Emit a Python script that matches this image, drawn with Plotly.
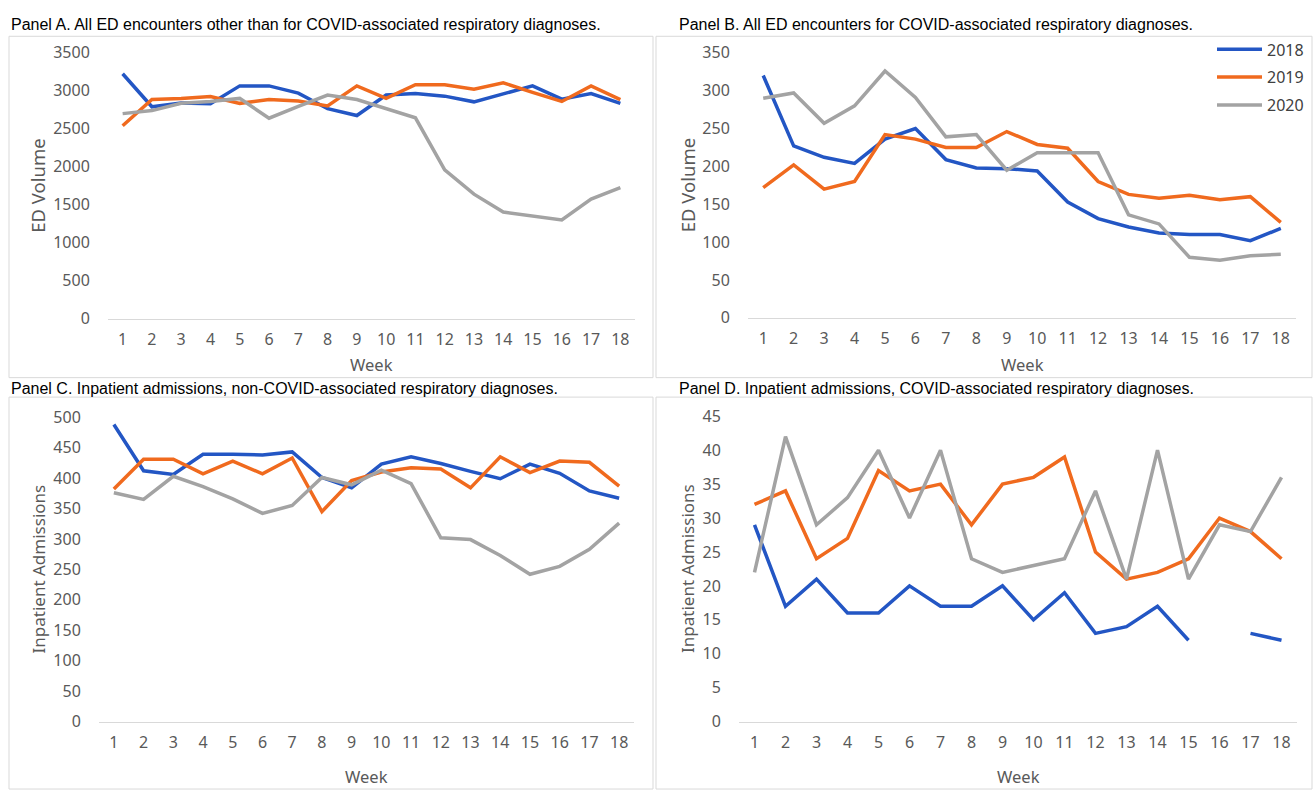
import plotly.graph_objects as go

W, H = 1314, 801

weeks = list(range(1, 19))
years = ["2018", "2019", "2020"]
colors = ["#2356C4", "#F06A1E", "#A3A3A3"]

# Panel A: ED encounters, non-COVID-associated respiratory
ed_other_2018 = [3225, 2790, 2840, 2830, 3065, 3065, 2970, 2765, 2675, 2945, 2965, 2930, 2855, 2960, 3065, 2890, 2965, 2835]
ed_other_2019 = [2540, 2885, 2900, 2925, 2835, 2885, 2865, 2800, 3065, 2900, 3080, 3080, 3020, 3105, 2980, 2860, 3065, 2885]
ed_other_2020 = [2700, 2740, 2835, 2860, 2900, 2640, 2795, 2945, 2885, 2765, 2645, 1960, 1640, 1405, 1350, 1300, 1575, 1725]

# Panel B: ED encounters, COVID-associated respiratory
ed_covid_2018 = [320, 227, 212, 204, 236, 250, 209, 198, 197, 194, 153, 131, 120, 112, 110, 110, 102, 118]
ed_covid_2019 = [172, 202, 170, 180, 242, 236, 225, 225, 246, 229, 224, 180, 163, 158, 162, 156, 160, 126]
ed_covid_2020 = [290, 297, 257, 280, 326, 291, 239, 242, 195, 218, 218, 218, 136, 124, 80, 76, 82, 84]

# Panel C: inpatient admissions, non-COVID-associated respiratory
ip_other_2018 = [488, 412, 406, 439, 439, 438, 443, 401, 384, 423, 435, 424, 411, 399, 423, 408, 379, 367]
ip_other_2019 = [382, 431, 431, 407, 428, 407, 433, 345, 396, 410, 417, 415, 384, 435, 409, 428, 426, 387]
ip_other_2020 = [376, 365, 403, 386, 366, 342, 355, 401, 389, 413, 391, 302, 299, 273, 242, 255, 283, 326]

# Panel D: inpatient admissions, COVID-associated respiratory (week 16 missing for 2018)
ip_covid_2018 = [29, 17, 21, 16, 16, 20, 17, 17, 20, 15, 19, 13, 14, 17, 12, None, 13, 12]
ip_covid_2019 = [32, 34, 24, 27, 37, 34, 35, 29, 35, 36, 39, 25, 21, 22, 24, 30, 28, 24]
ip_covid_2020 = [22, 42, 29, 33, 40, 30, 40, 24, 22, 23, 24, 34, 21, 40, 21, 29, 28, 36]

panel_titles = [
    "Panel A. All ED encounters other than for COVID-associated respiratory diagnoses.",
    "Panel B. All ED encounters for COVID-associated respiratory diagnoses.",
    "Panel C. Inpatient admissions, non-COVID-associated respiratory diagnoses.",
    "Panel D. Inpatient admissions, COVID-associated respiratory diagnoses.",
]
y_titles = ["ED Volume", "ED Volume", "Inpatient Admissions", "Inpatient Admissions"]
y_title_size = [18.5, 18.5, 17, 17]
y_max = [3500, 350, 500, 45]
y_step = [500, 50, 50, 5]
series = [
    [ed_other_2018, ed_other_2019, ed_other_2020],
    [ed_covid_2018, ed_covid_2019, ed_covid_2020],
    [ip_other_2018, ip_other_2019, ip_other_2020],
    [ip_covid_2018, ip_covid_2019, ip_covid_2020],
]

# pixel geometry of each panel: plot left/right/top/bottom, box, title pos, y-title x, week label y
panels = [
    dict(l=108, r=635, t=43, b=316.5, box=(9, 653, 26, 377), title=(9, 14), ytx=38, wy=363),
    dict(l=748, r=1296, t=43, b=315.5, box=(656, 1312, 26, 377), title=(677, 14), ytx=687, wy=363),
    dict(l=99, r=634, t=417.7, b=730.7, box=(9, 653, 397, 800), title=(9, 388), ytx=38, wy=787),
    dict(l=739, r=1297, t=416.7, b=730.7, box=(656, 1312, 397, 800), title=(677, 388), ytx=688, wy=787),
]

def px(x):
    return x / W

def py(y):
    return 1 - y / H

tick_font = dict(family="Noto Sans", size=16, color="#595959")

fig = go.Figure()
annotations = []
shapes = []

for i, p in enumerate(panels):
    n = "" if i == 0 else str(i + 1)
    for j, yr in enumerate(years):
        fig.add_trace(go.Scatter(
            x=weeks, y=series[i][j], mode="lines", name=yr, legendgroup=yr,
            line=dict(color=colors[j], width=3.5),
            connectgaps=False, showlegend=(i == 1),
            xaxis="x" + n, yaxis="y" + n,
        ))
    fig.layout["xaxis" + n] = dict(
        domain=[px(p["l"]), px(p["r"])], anchor="y" + n,
        range=[0.5, 18.5], tickmode="array", tickvals=weeks,
        showgrid=False, zeroline=False, showline=True, linecolor="#D9D9D9", linewidth=1,
        ticks="outside", ticklen=6, tickcolor="rgba(0,0,0,0)", tickfont=tick_font,
        fixedrange=True,
    )
    fig.layout["yaxis" + n] = dict(
        domain=[py(p["b"]), py(p["t"])], anchor="x" + n,
        range=[0, y_max[i]], dtick=y_step[i], tick0=0,
        showgrid=False, zeroline=False, showline=False,
        ticks="outside", ticklen=14, tickcolor="rgba(0,0,0,0)", tickfont=tick_font,
        fixedrange=True,
    )
    x0, x1, y0, y1 = p["box"]
    shapes.append(dict(type="rect", xref="paper", yref="paper",
                       x0=px(x0), x1=px(x1), y0=py(y1), y1=py(y0),
                       line=dict(color="#D9D9D9", width=1), fillcolor="rgba(0,0,0,0)"))
    tx, ty = p["title"]
    annotations.append(dict(text=panel_titles[i], x=px(tx), y=py(ty), xref="paper", yref="paper",
                            xanchor="left", yanchor="middle", showarrow=False,
                            font=dict(family="Liberation Sans", size=16, color="#000000")))
    annotations.append(dict(text=y_titles[i], x=px(p["ytx"]), y=py((p["t"] + p["b"]) / 2),
                            xref="paper", yref="paper", textangle=-90, showarrow=False,
                            xanchor="center", yanchor="middle",
                            font=dict(family="Noto Sans", size=y_title_size[i], color="#595959")))
    annotations.append(dict(text="Week", x=px((p["l"] + p["r"]) / 2), y=py(p["wy"]),
                            xref="paper", yref="paper", showarrow=False,
                            xanchor="center", yanchor="middle",
                            font=dict(family="Noto Sans", size=16.5, color="#595959")))

fig.update_layout(
    width=W, height=H,
    margin=dict(l=0, r=0, t=0, b=0),
    paper_bgcolor="white", plot_bgcolor="white",
    showlegend=True,
    legend=dict(x=px(1212), y=py(22), xanchor="left", yanchor="top",
                bgcolor="rgba(0,0,0,0)", font=dict(family="Noto Sans", size=16, color="#404040"),
                itemwidth=45, tracegroupgap=4, traceorder="grouped"),
    annotations=annotations,
    shapes=shapes,
)

# drop the default page margin so the 1314x801 figure fills the window exactly
fig.write_html("out.html", config={"displayModeBar": False},
               post_script="document.body.style.margin='0';document.body.style.overflow='hidden';")
